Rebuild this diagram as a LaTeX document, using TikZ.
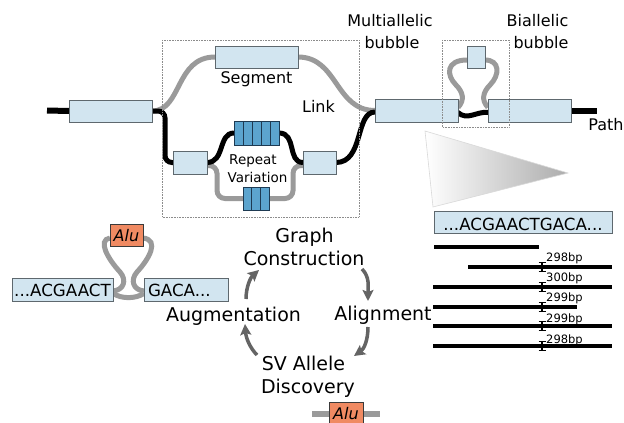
\documentclass[tikz,border=0pt]{standalone}
\usepackage{fontspec}
\setmainfont{DejaVu Sans}
\usetikzlibrary{arrows.meta,calc,backgrounds}

\definecolor{boxfill}{HTML}{D2E5F0}
\definecolor{boxline}{HTML}{5E686E}
\definecolor{rptfill}{HTML}{5CA4CE}
\definecolor{rptline}{HTML}{1E3A52}
\definecolor{alufill}{HTML}{F08A62}
\definecolor{aluline}{HTML}{3A3A3A}
\definecolor{altgray}{HTML}{9A9A9A}
\definecolor{arrowgray}{HTML}{646464}
\definecolor{dotgray}{HTML}{8C8C8C}

\begin{document}
\begin{tikzpicture}[x=1pt,y=-1pt,
  segbox/.style={draw=boxline, fill=boxfill, line width=1pt, inner sep=0pt, outer sep=0pt,
                 font=\fontsize{16.7}{20}\selectfont},
  rptbox/.style={draw=rptline, fill=rptfill, line width=1pt, inner sep=0pt, outer sep=0pt},
  alubox/.style={draw=aluline, fill=alufill, line width=1pt, inner sep=0pt, outer sep=0pt,
                 font=\fontsize{16}{19}\selectfont\itshape},
  refedge/.style={draw=black, line width=5pt},
  altedge/.style={draw=altgray, line width=5pt},
  lbl/.style={anchor=base, inner sep=0pt, font=\fontsize{16}{19}\selectfont},
  rvlbl/.style={anchor=base, inner sep=0pt, font=\fontsize{13.5}{16}\selectfont},
  cyc/.style={anchor=base, inner sep=0pt, font=\fontsize{19}{23}\selectfont},
  bplbl/.style={anchor=base west, inner sep=0pt, font=\fontsize{11.5}{13}\selectfont},
  bubblebox/.style={draw=dotgray, line width=0.6pt, densely dotted},
  readline/.style={draw=black, line width=4pt},
  cycarrow/.style={draw=arrowgray, line width=3.5pt, -{Stealth[length=11pt,width=11pt,inset=2pt]}}
]
\useasboundingbox (0,0) rectangle (624,423);

% ---- graph segments ----
\node[segbox, minimum width=83pt, minimum height=22pt] (L1) at (110.5,111) {};
\node[segbox, minimum width=83pt, minimum height=22pt] (Seg) at (256.5,57) {};
\node[segbox, minimum width=34pt, minimum height=23pt] (SA) at (190,162.5) {};
\node[segbox, minimum width=33pt, minimum height=23pt] (SB) at (319.5,162.5) {};
\node[rptbox, minimum width=45pt, minimum height=24pt] (RT) at (256.5,133) {};
\node[rptbox, minimum width=26pt, minimum height=23pt] (RB) at (256,198.5) {};
\node[segbox, minimum width=83pt, minimum height=23pt] (A) at (416.5,110.5) {};
\node[segbox, minimum width=18pt, minimum height=22pt] (T) at (476,57) {};
\node[segbox, minimum width=83pt, minimum height=23pt] (B) at (529.5,110.5) {};

% repeat units
\foreach \i in {1,...,4}
  \draw[draw=rptline, line width=1pt] ($(RT.north west)!\i/5!(RT.north east)$) -- ($(RT.south west)!\i/5!(RT.south east)$);
\foreach \i in {1,2}
  \draw[draw=rptline, line width=1pt] ($(RB.north west)!\i/3!(RB.north east)$) -- ($(RB.south west)!\i/3!(RB.south east)$);

% ---- sequences ----
\node[segbox, minimum width=178pt, minimum height=22pt, text height=16pt, text depth=0pt] (Seq) at (523,222) {...ACGAACTGACA...};
\node[segbox, minimum width=101pt, minimum height=23pt, text height=13pt, text depth=0pt] (LS1) at (62.5,289.5) {...ACGAACT};
\node[segbox, minimum height=23pt, text width=76pt, align=left, inner xsep=4pt, text height=13pt, text depth=0pt] (LS2) at (186,289.5) {GACA...};
\node[alubox, minimum width=33pt, minimum height=22pt, text height=13.4pt, text depth=0pt] (AluL) at (126.5,235) {Alu};
\node[alubox, minimum width=34pt, minimum height=22pt, text height=13pt, text depth=0pt] (AluB) at (346,413) {Alu};

% ---- labels ----
\node[lbl] (mul1) at (390,27) {Multiallelic};
\node[lbl] (mul2) at (392,48.5) {bubble};
\node[lbl] (bia1) at (537.5,27) {Biallelic};
\node[lbl] (bia2) at (541,48.5) {bubble};
\node[lbl] (seglbl) at (256.5,83.5) {Segment};
\node[lbl] (linklbl) at (318.5,112) {Link};
\node[lbl] (pathlbl) at (606,130) {Path};
\node[rvlbl] (rv1) at (253,164) {Repeat};
\node[rvlbl] (rv2) at (257.5,182) {Variation};

\node[cyc] (gc1) at (304.5,242) {Graph};
\node[cyc] (gc2) at (304,265) {Construction};
\node[cyc] (aln) at (383,320) {Alignment};
\node[cyc] (aug) at (233.5,321) {Augmentation};
\node[cyc] (sv1) at (303.5,370) {SV Allele};
\node[cyc] (sv2) at (308,393) {Discovery};

% ---- edges (behind the segments) ----
\coordinate (pL) at (47,110.5);
\coordinate (pR) at (597,110.5);
\coordinate (barL) at (312,414);
\coordinate (barR) at (380,414);
\begin{scope}[on background layer]
  % alternative (gray) edges
  \draw[altedge] (L1.east) .. controls +(30,0) and +(-40,0) .. (Seg.west);
  \draw[altedge] (Seg.east) .. controls +(40,0) and +(-40,0) .. (A.west);
  \draw[altedge, rounded corners=8pt] ([yshift=-3pt]SA.east) -- ++(10,0) |- (RB.west);
  \draw[altedge, rounded corners=8pt] ([yshift=-3pt]SB.west) -- ++(-10,0) |- (RB.east);
  \draw[altedge] ([yshift=3pt]A.east) .. controls (465,100) and (463,92) .. (456,85)
                 .. controls (446,75) and (446,60) .. ([yshift=-3pt]T.west);
  \draw[altedge] ([yshift=3pt]B.west) .. controls (481,100) and (483,92) .. (490,85)
                 .. controls (500,75) and (500,60) .. ([yshift=-3pt]T.east);
  % insertion loop
  \draw[altedge] ([yshift=-1.5pt]LS1.east) .. controls (124,290) and (127,280) .. (120,272)
                 .. controls (108,259) and (97,240) .. ([yshift=-3pt]AluL.west);
  \draw[altedge] ([yshift=-1.5pt]LS2.west) .. controls (133,290) and (130,280) .. (137,272)
                 .. controls (149,259) and (160,240) .. ([yshift=-3pt]AluL.east);
  \draw[altedge] ([yshift=-4pt]LS1.east) .. controls (122,299) and (135,299) .. ([yshift=-4pt]LS2.west);
  \draw[draw=altgray, line width=6pt] (barL) -- (barL -| AluB.west);
  \draw[draw=altgray, line width=6pt] (barR -| AluB.east) -- (barR);
  % reference path (black)
  \draw[draw=black, line width=6pt] (pL) -- (L1.west);
  \draw[refedge, rounded corners=7pt] (L1.east) -- ++(13,0) |- (SA.west);
  \draw[refedge] (SA.east) .. controls +(18,0) and +(-16,0) .. (RT.west);
  \draw[refedge] (RT.east) .. controls +(18,0) and +(-16,0) .. (SB.west);
  \draw[refedge] (SB.east) .. controls +(28,0) and +(-20,0) .. ([yshift=-1.5pt]A.west);
  \draw[refedge] ([yshift=-2pt]A.east) .. controls +(9,8.5) and +(-11,-1.5) .. ([yshift=-2pt]B.west);
  \draw[draw=black, line width=6pt] (B.east) -- (pR);
\end{scope}

% ---- bubble outlines ----
\draw[bubblebox] (162,40) rectangle (359,217);
\draw[bubblebox] (442,40) rectangle (509,127);

% ---- zoom wedge ----
\shade[left color=white, right color=gray!65, draw=gray!30, line width=0.6pt]
  (425,131) -- (568,173) -- (433,207) -- cycle;

% ---- reads with insert sizes ----
\node[bplbl] (bp1) at (546,261.5) {298bp};
\node[bplbl] (bp2) at (546,281.5) {300bp};
\node[bplbl] (bp3) at (546,301) {299bp};
\node[bplbl] (bp4) at (546,322.5) {299bp};
\node[bplbl] (bp5) at (546,343) {298bp};
\draw[readline] (434,246.5) -- (539,246.5);
\draw[readline] (468,267) -- (612,267);
\draw[readline] (433,287) -- (612,287);
\draw[readline] (433,307) -- (577,307);
\draw[readline] (433,326) -- (612,326);
\draw[readline] (433,346) -- (612,346);
\foreach \yy in {267,287,307,326,346} {
  \draw[line width=2.4pt] (542,\yy-4.5) -- (542,\yy+4.5);
  \draw[line width=1.8pt] (538.5,\yy-4.5) -- (545.5,\yy-4.5) (538.5,\yy+4.5) -- (545.5,\yy+4.5);
}

% ---- cycle arrows ----
\coordinate (c1s) at (362,269);  \coordinate (c1e) at (368,301);
\coordinate (c2s) at (368,327);  \coordinate (c2e) at (354,356);
\coordinate (c3s) at (257,355);  \coordinate (c3e) at (245,324);
\coordinate (c4s) at (246,299);  \coordinate (c4e) at (259,270);
\draw[cycarrow] (c1s) .. controls (370,277) and (368,287) .. (c1e);
\draw[cycarrow] (c2s) .. controls (368,340) and (364,349) .. (c2e);
\draw[cycarrow] (c3s) .. controls (250,348) and (246,338) .. (c3e);
\draw[cycarrow] (c4s) .. controls (246,288) and (250,278) .. (c4e);
\end{tikzpicture}
\end{document}
